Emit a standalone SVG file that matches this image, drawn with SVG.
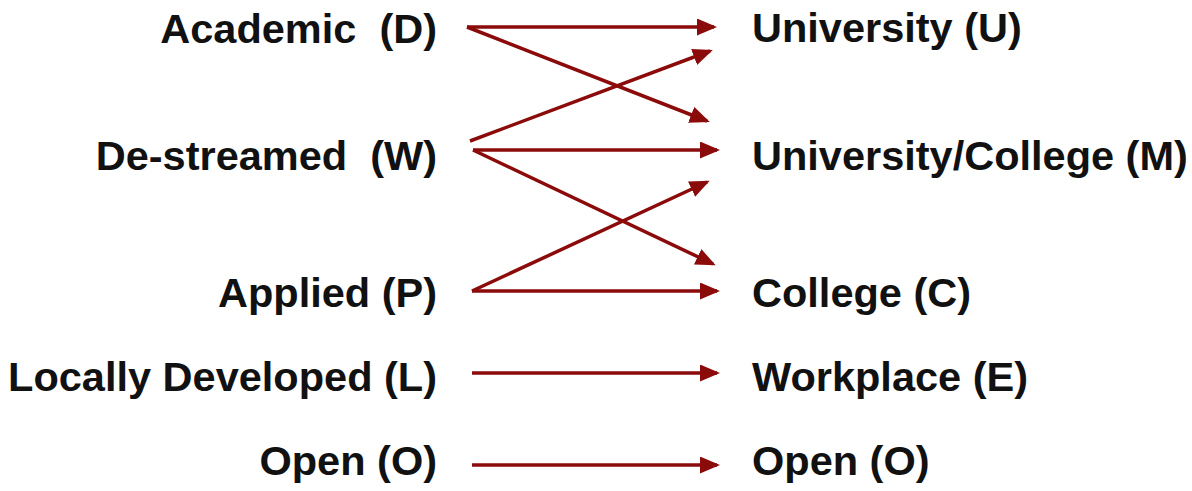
<svg xmlns="http://www.w3.org/2000/svg" width="1192" height="491" viewBox="0 0 1192 491">
<style>
text{font-family:"Liberation Sans",Arial,sans-serif;font-weight:bold;font-size:41.5px;fill:#111;white-space:pre}
.l{text-anchor:end}
.c line{stroke:#8b0a0a;stroke-width:3.5;marker-end:url(#ah)}
</style>
<defs>
<marker id="ah" markerUnits="userSpaceOnUse" markerWidth="21" markerHeight="18" refX="17" refY="8.5" orient="auto">
<path d="M0,0 L20,8.5 L0,17 z" fill="#8b0a0a"/>
</marker>
</defs>
<rect width="1192" height="491" fill="#fff"/>
<g id="D"><text class="l" x="437" y="43" xml:space="preserve">Academic  (D)</text></g>
<g id="W"><text class="l" x="437" y="170" xml:space="preserve">De-streamed  (W)</text></g>
<g id="P"><text class="l" x="437" y="307">Applied (P)</text></g>
<g id="L"><text class="l" x="437" y="391">Locally Developed (L)</text></g>
<g id="O1"><text class="l" x="437" y="475">Open (O)</text></g>
<g id="U"><text x="752" y="42">University (U)</text></g>
<g id="M"><text x="752" y="170">University/College (M)</text></g>
<g id="C"><text x="752" y="307">College (C)</text></g>
<g id="E"><text x="752" y="391">Workplace (E)</text></g>
<g id="O2"><text x="752" y="475">Open (O)</text></g>
<g class="c" id="connectors">
<line x1="467" y1="27" x2="714" y2="27"/>
<line x1="467" y1="27" x2="707" y2="121"/>
<line x1="470" y1="141" x2="710" y2="51"/>
<line x1="473" y1="150" x2="717" y2="150"/>
<line x1="473" y1="150" x2="713" y2="264"/>
<line x1="472" y1="291" x2="707" y2="182"/>
<line x1="472" y1="291" x2="717" y2="291"/>
<line x1="472" y1="373" x2="717" y2="373"/>
<line x1="472" y1="465" x2="717" y2="465"/>
</g>
</svg>
